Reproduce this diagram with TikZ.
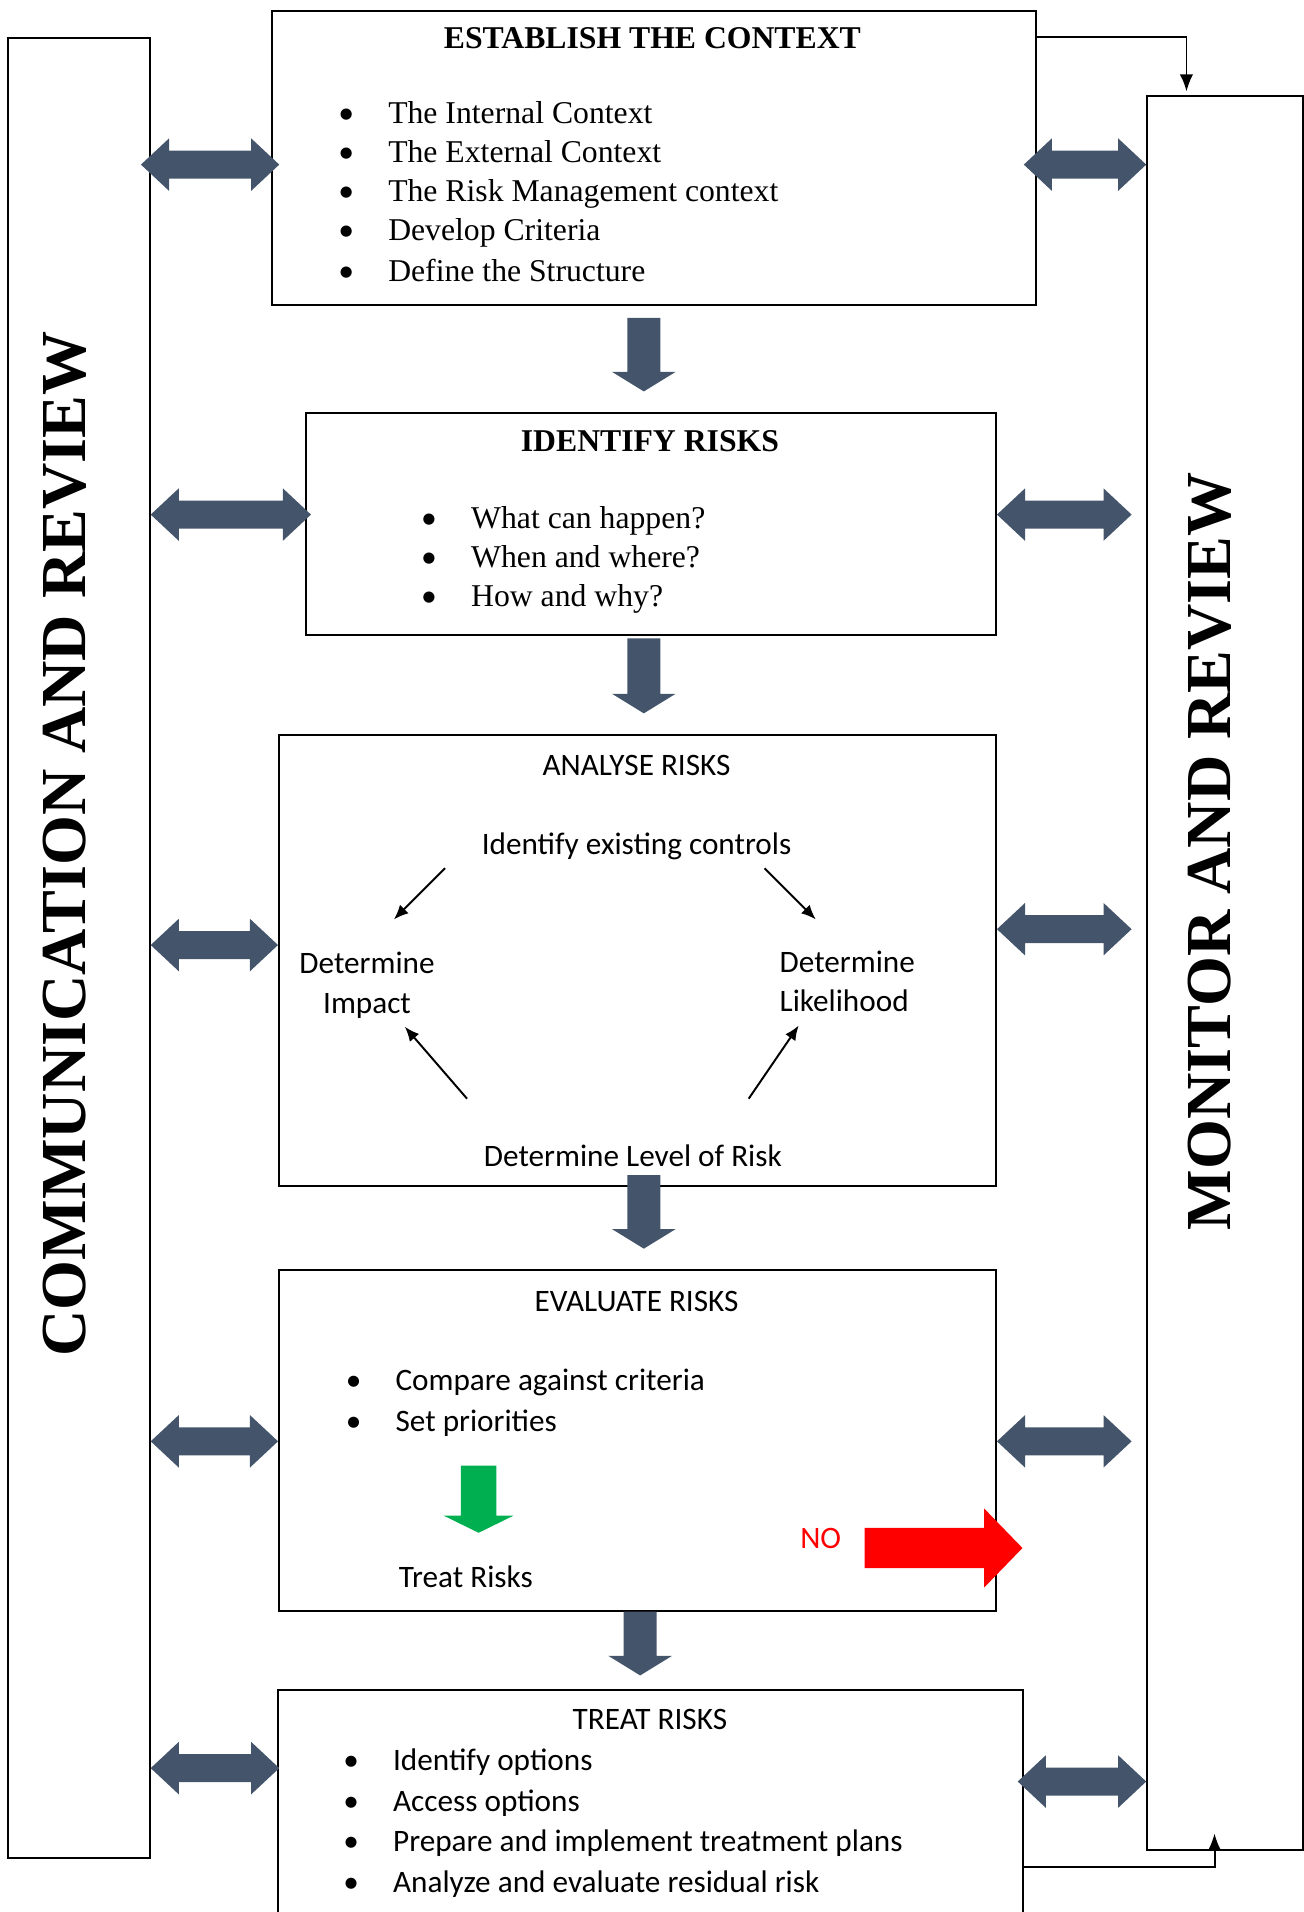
\documentclass[tikz,border=0pt]{standalone}
\usepackage{fontspec}
\setmainfont{Liberation Serif}
\newfontfamily\calibri{Carlito}
\usetikzlibrary{calc,arrows.meta}
\definecolor{slate}{RGB}{68,84,106}
\definecolor{okgreen}{RGB}{0,176,80}

% bullet hanging left of an item
\newcommand{\bul}{\llap{{\calibri\textbullet}\hspace{14pt}}}
% fat double arrow between two points (same height)
\newcommand{\dblarrow}[2]{%
  \fill[slate] let \p1=#1, \p2=#2 in
    (\x1,\y1) -- (\x1+11.5pt,\y1+10.75pt) -- (\x1+11.5pt,\y1+5.75pt) -- (\x2-11.5pt,\y1+5.75pt)
    -- (\x2-11.5pt,\y1+10.75pt) -- (\x2,\y1) -- (\x2-11.5pt,\y1-10.75pt) -- (\x2-11.5pt,\y1-5.75pt)
    -- (\x1+11.5pt,\y1-5.75pt) -- (\x1+11.5pt,\y1-10.75pt) -- cycle;}
% fat down arrow from top point to tip
\newcommand{\downblk}[2]{%
  \fill[slate] let \p1=#1, \p2=#2 in
    (\x1-6.75pt,\y1) -- (\x1+6.75pt,\y1) -- (\x1+6.75pt,\y2+8pt) -- (\x1+13pt,\y2+8pt)
    -- (\x1,\y2) -- (\x1-13pt,\y2+8pt) -- (\x1-6.75pt,\y2+8pt) -- cycle;}

\begin{document}
\begin{tikzpicture}[x=0.5pt,y=-0.5pt]
	\tikzstyle{box}=[draw,line width=0.8pt,rectangle,anchor=north west,inner sep=0pt]
	\tikzstyle{ttl}=[font=\bfseries\fontsize{13}{16}\selectfont]
	\tikzstyle{sttl}=[font=\calibri\fontsize{12.8}{16}\selectfont]
	\tikzstyle{stxt}=[sttl,yshift=-2pt]
	\tikzstyle{item}=[anchor=mid west,inner sep=0pt,yshift=-2pt,font=\fontsize{13}{16}\selectfont]
	\tikzstyle{sitem}=[anchor=mid west,inner sep=0pt,yshift=-2pt,font=\calibri\fontsize{12.8}{16}\selectfont]
	\tikzstyle{side}=[rotate=90,anchor=base,inner sep=0pt,font=\bfseries\fontsize{26.3}{30}\selectfont]
	\tikzstyle{conn}=[line width=0.8pt,-{Latex[length=7pt,width=5.5pt]}]
	\tikzstyle{cyc}=[line width=0.8pt,-{Latex[length=6pt,width=5pt]}]

	\useasboundingbox (0,0) rectangle (1069,1568);

	% side boxes
	\node[box,minimum width=58pt,minimum height=746.5pt] (comm) at (6,30) {};
	\node[box,minimum width=63.75pt,minimum height=719pt] (mon) at (940,78) {};
	\node[side] (commtxt) at (70,692) {COMMUNICATION AND REVIEW};
	\node[side] (montxt) at (1009,698) {MONITOR AND REVIEW};

	% establish the context
	\node[box,minimum width=313.5pt,minimum height=120.5pt] (est) at (222,8) {};
	\node[ttl] (estt) at (535,31) {ESTABLISH THE CONTEXT};
	\node[item] (e1) at (318,93) {\bul The Internal Context};
	\node[item] (e2) at (318,125) {\bul The External Context};
	\node[item] (e3) at (318,157) {\bul The Risk Management context};
	\node[item] (e4) at (318,189) {\bul Develop Criteria};
	\node[item] (e5) at (318,222) {\bul Define the Structure};

	% identify risks
	\node[box,minimum width=283pt,minimum height=91pt] (ident) at (250,338) {};
	\node[ttl] (identt) at (533,362) {IDENTIFY RISKS};
	\node[item] (i1) at (386,425) {\bul What can happen?};
	\node[item] (i2) at (386,457) {\bul When and where?};
	\node[item] (i3) at (386,489) {\bul How and why?};

	% analyse risks
	\node[box,minimum width=294pt,minimum height=185pt] (anal) at (228,602) {};
	\node[sttl] (analt) at (522,628) {ANALYSE RISKS};
	\node[stxt,anchor=mid] (ctrl) at (522,692) {Identify existing controls};
	\node[stxt,align=center,inner sep=0pt] (impact) at (301,804) {Determine\\Impact};
	\node[stxt,align=left,anchor=west,inner sep=0pt] (likeli) at (639,801) {Determine\\Likelihood};
	\node[stxt,anchor=mid] (level) at (519,948) {Determine Level of Risk};
	\draw[cyc] (365,712) -- (323,754);
	\draw[cyc] (627,712) -- (669,754);
	\draw[cyc] (383,901) -- (332,842);
	\draw[cyc] (614,901) -- (655,841);

	% evaluate risks
	\node[box,minimum width=294pt,minimum height=139.5pt] (eval) at (228,1041) {};
	\node[sttl] (evalt) at (522,1067) {EVALUATE RISKS};
	\node[sitem] (v1) at (324,1132) {\bul Compare against criteria};
	\node[sitem] (v2) at (324,1165) {\bul Set priorities};
	\node[sttl] (treatlbl) at (382,1293) {Treat Risks};
	\node[sttl,text=red] (no) at (673,1262) {NO};
	\fill[okgreen] (378,1202) -- (407,1202) -- (407,1243) -- (421,1243) -- (392.5,1257) -- (364,1243) -- (378,1243) -- cycle;
	\fill[red] (709,1253) -- (807,1253) -- (807,1237) -- (838.5,1269.5) -- (807,1302) -- (807,1286) -- (709,1286) -- cycle;

	% treat risks
	\node[box,minimum width=305.5pt,minimum height=100pt] (treat) at (227,1385) {};
	\node[sttl] (treatt) at (533,1410) {TREAT RISKS};
	\node[sitem] (t1) at (322,1443) {\bul Identify options};
	\node[sitem] (t2) at (322,1477) {\bul Access options};
	\node[sitem] (t3) at (322,1510) {\bul Prepare and implement treatment plans};
	\node[sitem] (t4) at (322,1543) {\bul Analyze and evaluate residual risk};

	% flow down
	\downblk{([yshift=-5pt]est.south -| 528,0)}{([yshift=8.5pt]ident.north -| 528,0)}
	\downblk{([yshift=-1pt]ident.south -| 528,0)}{([yshift=8.5pt]anal.north -| 528,0)}
	\downblk{([yshift=5pt]anal.south -| 528,0)}{([yshift=8.5pt]eval.north -| 528,0)}
	\downblk{(eval.south -| 525,0)}{([yshift=5.5pt]treat.north -| 525,0)}

	% links to the side boxes
	\dblarrow{([xshift=-4pt]comm.east |- 0,135)}{([xshift=3.5pt]est.west |- 0,135)}
	\dblarrow{(comm.east |- 0,422)}{([xshift=2.5pt]ident.west |- 0,422)}
	\dblarrow{(comm.east |- 0,775)}{(anal.west |- 0,775)}
	\dblarrow{(comm.east |- 0,1182)}{(eval.west |- 0,1182)}
	\dblarrow{(comm.east |- 0,1450)}{([xshift=1pt]treat.west |- 0,1450)}
	\dblarrow{([xshift=-5.5pt]est.east |- 0,135)}{(mon.west |- 0,135)}
	\dblarrow{(ident.east |- 0,422)}{([xshift=-6pt]mon.west |- 0,422)}
	\dblarrow{(anal.east |- 0,762)}{([xshift=-6pt]mon.west |- 0,762)}
	\dblarrow{(eval.east |- 0,1182)}{([xshift=-6pt]mon.west |- 0,1182)}
	\dblarrow{([xshift=-2.5pt]treat.east |- 0,1461)}{(mon.west |- 0,1461)}

	\draw[conn,shorten >=1.5pt] (est.east |- 0,30) -| (mon.north -| 973,0);
	\draw[conn] (treat.east |- 0,1531) -| ([yshift=7pt]mon.south -| 996,0);
\end{tikzpicture}
\end{document}
